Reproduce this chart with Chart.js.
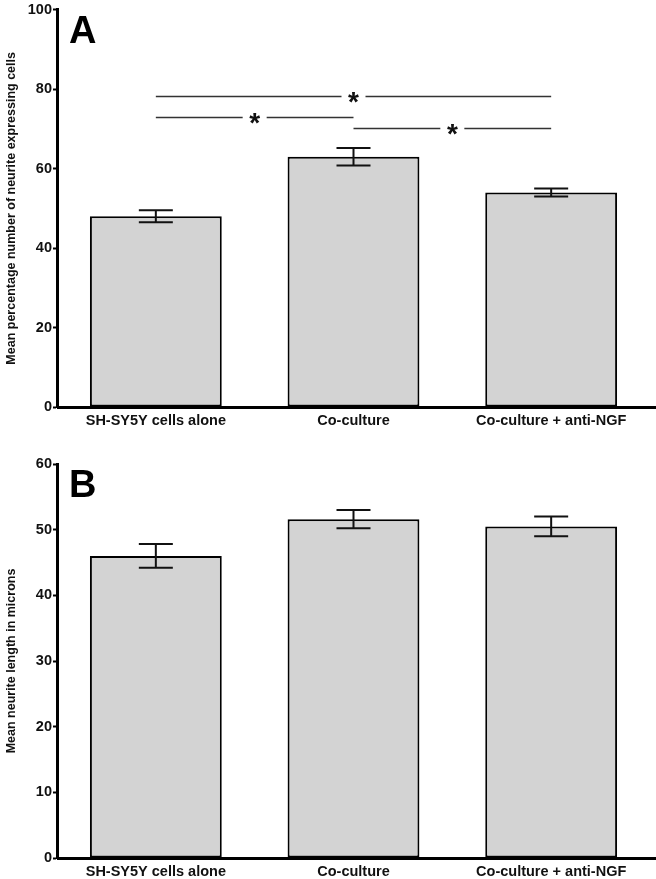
<!DOCTYPE html>
<html>
<head>
<meta charset="utf-8">
<script src="https://cdn.jsdelivr.net/npm/chart.js@4"></script>
<style>
  html, body { margin: 0; padding: 0; background: #fff; }
  #wrap { position: relative; width: 656px; height: 879px; }
  .panel { position: absolute; left: 0; width: 656px; }
  #panelA { top: 0; height: 440px; }
  #panelB { top: 440px; height: 439px; }
</style>
</head>
<body>
<div id="wrap">
  <div class="panel" id="panelA"><canvas id="chartA"></canvas></div>
  <div class="panel" id="panelB"><canvas id="chartB"></canvas></div>
</div>
<script>
// Groups on the x axis (same for both panels)
const groups = ["SH-SY5Y cells alone", "Co-culture", "Co-culture + anti-NGF"];

// Panel A: percentage of neurite expressing cells
const percentMean = [48.0, 63.0, 54.0];
const percentErr = [1.5, 2.2, 1.0];
const percentTicks = [0, 20, 40, 60, 80, 100];

// Significance brackets in panel A (from group, to group, height)
const sigFrom = [0, 0, 1];
const sigTo = [2, 1, 2];
const sigHeight = [78.4, 72.9, 70.1];

// Panel B: neurite length
const lengthMean = [46.0, 51.6, 50.5];
const lengthErr = [1.8, 1.4, 1.5];
const lengthTicks = [0, 10, 20, 30, 40, 50, 60];

const FONT = "Arial, 'Liberation Sans', Helvetica, sans-serif";

// error bars drawn from the err array attached to the dataset
const errorBars = {
  id: 'errorBars',
  afterDatasetsDraw(chart) {
    const ctx = chart.ctx;
    const y = chart.scales.y;
    const ds = chart.data.datasets[0];
    const meta = chart.getDatasetMeta(0);
    ctx.save();
    ctx.strokeStyle = '#111';
    ctx.lineWidth = 2;
    meta.data.forEach((bar, i) => {
      const v = ds.data[i], e = ds.err[i];
      const yt = y.getPixelForValue(v + e), yb = y.getPixelForValue(v - e);
      const half = 17;
      ctx.beginPath();
      ctx.moveTo(bar.x, yt); ctx.lineTo(bar.x, yb);
      ctx.moveTo(bar.x - half, yt); ctx.lineTo(bar.x + half, yt);
      ctx.moveTo(bar.x - half, yb); ctx.lineTo(bar.x + half, yb);
      ctx.stroke();
    });
    ctx.restore();
  }
};

// panel letter, extended x axis line, significance lines
const decorations = {
  id: 'decorations',
  afterDraw(chart, args, opts) {
    const ctx = chart.ctx;
    const area = chart.chartArea;
    ctx.save();
    // x axis extends to the edge of the figure
    ctx.strokeStyle = '#000';
    ctx.lineWidth = 3;
    ctx.beginPath();
    ctx.moveTo(area.left, area.bottom + 0.5);
    ctx.lineTo(chart.width, area.bottom + 0.5);
    ctx.stroke();

    ctx.fillStyle = '#000';
    ctx.font = 'bold 38px ' + FONT;
    ctx.textBaseline = 'top';
    ctx.textAlign = 'left';
    ctx.fillText(opts.letter, area.left + 12, area.top + 4);

    if (opts.sig) {
      const x = chart.scales.x, y = chart.scales.y;
      ctx.strokeStyle = '#333';
      ctx.lineWidth = 1.5;
      ctx.font = 'bold 28px ' + FONT;
      ctx.textAlign = 'center';
      ctx.textBaseline = 'middle';
      sigFrom.forEach((f, i) => {
        const x1 = x.getPixelForValue(f), x2 = x.getPixelForValue(sigTo[i]);
        const yy = Math.round(y.getPixelForValue(sigHeight[i])) + 0.5;
        const xm = (x1 + x2) / 2, gap = 12;
        ctx.beginPath();
        ctx.moveTo(x1, yy); ctx.lineTo(xm - gap, yy);
        ctx.moveTo(xm + gap, yy); ctx.lineTo(x2, yy);
        ctx.stroke();
        ctx.fillStyle = '#111';
        ctx.fillText('*', xm, yy + 7);
      });
    }
    ctx.restore();
  }
};

function makeChart(id, values, errs, ticks, yTitle, letter, withSig, xHeight, topPad) {
  return new Chart(document.getElementById(id), {
    type: 'bar',
    data: {
      labels: groups,
      datasets: [{
        data: values,
        err: errs,
        backgroundColor: '#d3d3d3',
        borderColor: '#000',
        borderWidth: 2,
        borderSkipped: false,
        barPercentage: 0.667,
        categoryPercentage: 1.0
      }]
    },
    options: {
      responsive: true,
      maintainAspectRatio: false,
      animation: false,
      layout: { padding: { top: topPad, right: 6, left: 0, bottom: 0 } },
      plugins: {
        legend: { display: false },
        tooltip: { enabled: false },
        decorations: { letter: letter, sig: withSig }
      },
      scales: {
        x: {
          afterFit: s => { s.height = xHeight; },
          grid: { display: false, drawTicks: false },
          border: { display: false },
          ticks: {
            color: '#111',
            padding: 5,
            maxRotation: 0,
            font: { family: FONT, size: 14.5, weight: 'bold' }
          }
        },
        y: {
          min: ticks[0],
          max: ticks[ticks.length - 1],
          afterFit: s => { s.width = 57; },
          afterBuildTicks: s => { s.ticks = ticks.map(v => ({ value: v })); },
          border: { display: true, color: '#000', width: 3 },
          grid: {
            display: true,
            drawOnChartArea: false,
            drawTicks: true,
            tickLength: 4,
            tickWidth: 2,
            tickColor: '#000'
          },
          ticks: {
            color: '#111',
            padding: 1,
            font: { family: FONT, size: 14.5, weight: 'bold' }
          },
          title: {
            display: true,
            text: yTitle,
            color: '#111',
            padding: { top: 4, bottom: 0 },
            font: { family: FONT, size: 12.5, weight: 'bold' }
          }
        }
      }
    },
    plugins: [errorBars, decorations]
  });
}

makeChart('chartA', percentMean, percentErr, percentTicks,
  'Mean percentage number of neurite expressing cells', 'A', true, 33, 9);
makeChart('chartB', lengthMean, lengthErr, lengthTicks,
  'Mean neurite length in microns', 'B', false, 21, 24);
</script>
</body>
</html>
